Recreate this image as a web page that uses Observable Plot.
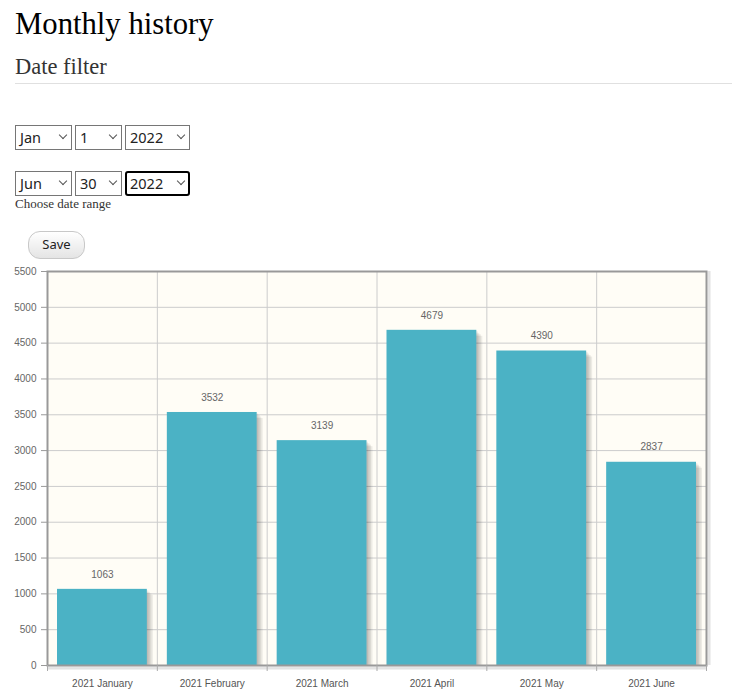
<!DOCTYPE html>
<html>
<head>
<meta charset="utf-8">
<script src="https://cdn.jsdelivr.net/npm/d3@7"></script>
<script src="https://cdn.jsdelivr.net/npm/@observablehq/plot@0.6"></script>
<style>
  html, body { margin: 0; padding: 0; background: #fff; }
  body { position: relative; width: 732px; height: 695px; overflow: hidden; font-family: "Liberation Serif", serif; }
  .abs { position: absolute; white-space: nowrap; }
  #title { left: 15px; top: 9px; font-size: 30.7px; line-height: 31px; color: #000; }
  #sub { left: 15px; top: 56px; font-size: 22.5px; line-height: 22.5px; color: #333; }
  #hr { left: 15px; top: 83px; width: 717px; height: 1px; background: #e0e0e0; }
  .sel { position: absolute; box-sizing: border-box; height: 25px; border: 1px solid #767676; background: #fff;
         font-family: "Noto Sans", sans-serif; font-size: 14.5px; line-height: 22px; color: #222; padding-left: 4px; }
  .sel.focus { border: 2px solid #000; border-radius: 3px; padding-left: 3px; line-height: 20px; }
  .chev { position: absolute; top: 6px; width: 5px; height: 5px; border-right: 1.3px solid #555; border-bottom: 1.3px solid #555; transform: rotate(45deg); }
  .sel.focus .chev { top: 5px; }
  #hint { left: 15px; top: 197px; font-size: 13px; line-height: 13px; color: #333; }
  #save { left: 28px; top: 231px; width: 57px; height: 28px; box-sizing: border-box; border: 1px solid #c8c8c8; border-radius: 12px;
          background: linear-gradient(#ffffff, #e4e4e4); font-family: "Noto Sans", sans-serif; font-size: 13px; line-height: 25px; text-align: center; color: #222; }
  #chart { position: absolute; left: 0; top: 262px; }
</style>
</head>
<body>
<div id="title" class="abs">Monthly history</div>
<div id="sub" class="abs">Date filter</div>
<div id="hr" class="abs"></div>

<div class="sel" style="left:15px;top:125px;width:57px;">Jan<span class="chev" style="left:44px"></span></div>
<div class="sel" style="left:75px;top:125px;width:47px;">1<span class="chev" style="left:34px"></span></div>
<div class="sel" style="left:125px;top:125px;width:65px;">2022<span class="chev" style="left:52px"></span></div>

<div class="sel" style="left:15px;top:171px;width:57px;">Jun<span class="chev" style="left:44px"></span></div>
<div class="sel" style="left:75px;top:171px;width:47px;">30<span class="chev" style="left:34px"></span></div>
<div class="sel focus" style="left:125px;top:171px;width:65px;">2022<span class="chev" style="left:51px"></span></div>

<div id="hint" class="abs">Choose date range</div>
<div id="save" class="abs">Save</div>
<div id="chart"></div>

<script>
// ---- data ----
const months = ["2021 January", "2021 February", "2021 March", "2021 April", "2021 May", "2021 June"];
const counts = [1063, 3532, 3139, 4679, 4390, 2837];
const yTicks = [0, 500, 1000, 1500, 2000, 2500, 3000, 3500, 4000, 4500, 5000, 5500];

const rows = months.map((m, i) => ({month: m, value: counts[i]}));

const W = 732, H = 433, mT = 9, mB = 30, mL = 47, mR = 26;
const bw = (W - mL - mR) / months.length;
const plotH = H - mT - mB;
const barColor = "#4bb2c5";

const shadowLayers = [1.5, 3, 4.5, 6].map(k =>
  Plot.barY(rows, {x: "month", y: "value", fill: "#000", fillOpacity: 0.07, insetLeft: 10, insetRight: 10, dx: k, dy: k, clip: "frame"})
);

const chart = Plot.plot({
  width: W,
  height: H,
  marginTop: mT,
  marginBottom: mB,
  marginLeft: mL,
  marginRight: mR,
  style: {fontFamily: "'Liberation Sans', Arial, sans-serif", fontSize: "10px", color: "#666", background: "transparent", overflow: "visible"},
  x: {domain: months, padding: 0, round: false, label: null},
  y: {domain: [0, 5500], label: null},
  marks: [
    Plot.frame({fill: "#fffdf6"}),
    Plot.ruleY(yTicks.slice(1, -1), {stroke: "#cccccc"}),
    Plot.ruleX(months.slice(1), {dx: -bw / 2, stroke: "#cccccc"}),
    ...shadowLayers,
    Plot.barY(rows, {x: "month", y: "value", fill: barColor, insetLeft: 10, insetRight: 10}),
    Plot.text(rows, {x: "month", y: "value", text: d => String(d.value), dy: -15, fill: "#666"}),
    // frame shadow (right and bottom)
    Plot.ruleY([0], {dy: 2, stroke: "#000", strokeOpacity: 0.1, strokeWidth: 2}),
    Plot.ruleY([0], {dy: 3.5, stroke: "#000", strokeOpacity: 0.06, strokeWidth: 2}),
    Plot.ruleX([months[months.length - 1]], {dx: bw / 2 + 2, stroke: "#000", strokeOpacity: 0.1, strokeWidth: 2}),
    Plot.ruleX([months[months.length - 1]], {dx: bw / 2 + 3.5, stroke: "#000", strokeOpacity: 0.06, strokeWidth: 2}),
    Plot.frame({stroke: "#999", strokeWidth: 2}),
    // boundary ticks under the x axis
    Plot.ruleX(months, {dx: -bw / 2, insetTop: plotH, insetBottom: -6, stroke: "#aaa"}),
    Plot.ruleX([months[months.length - 1]], {dx: bw / 2, insetTop: plotH, insetBottom: -6, stroke: "#aaa"}),
    Plot.axisY({ticks: yTicks, tickFormat: "d", tickSize: 6, tickPadding: 5, stroke: "#999", fill: "#666", label: null}),
    Plot.axisX({tickSize: 0, tickPadding: 14, fill: "#555", label: null})
  ]
});
document.getElementById("chart").appendChild(chart);
</script>
</body>
</html>
